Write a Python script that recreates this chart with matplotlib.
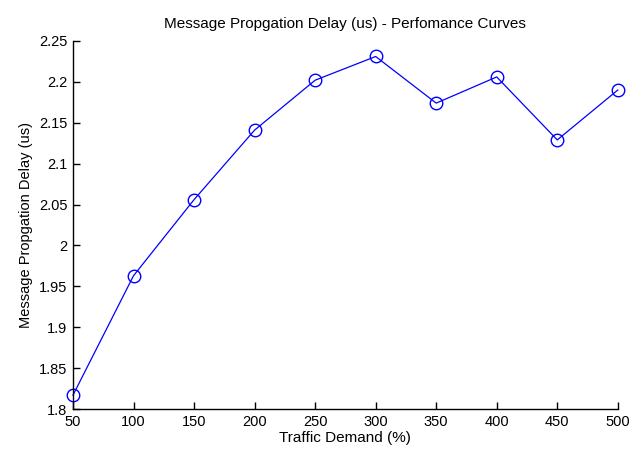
import matplotlib
matplotlib.use('Agg')
import matplotlib.pyplot as plt

traffic = [50, 100, 150, 200, 250, 300, 350, 400, 450, 500]
delay = [1.817, 1.963, 2.056, 2.141, 2.202, 2.231, 2.174, 2.206, 2.129, 2.190]
xticks = list(range(50, 501, 50))
yticks = [1.8, 1.85, 1.9, 1.95, 2.0, 2.05, 2.1, 2.15, 2.2, 2.25]
ytick_labels = ['1.8', '1.85', '1.9', '1.95', '2', '2.05', '2.1', '2.15', '2.2', '2.25']

plt.rcParams['font.family'] = ['Liberation Sans', 'DejaVu Sans']

fig = plt.figure(figsize=(6.32, 4.55), dpi=100)
ax = fig.add_axes([0.1155, 0.101, 0.862, 0.809])
ax.plot(traffic, delay, color='#0000ff', linewidth=0.9, marker='o',
        markersize=9, markerfacecolor='none', markeredgecolor='#0000ff',
        markeredgewidth=1.0, clip_on=False)

ax.set_xlim(50, 500)
ax.set_ylim(1.8, 2.25)
ax.set_xticks(xticks)
ax.set_yticks(yticks)
ax.set_yticklabels(ytick_labels)
ax.spines['top'].set_visible(False)
ax.spines['right'].set_visible(False)
ax.spines['left'].set_linewidth(1.0)
ax.spines['bottom'].set_linewidth(1.0)
ax.tick_params(direction='in', length=5, width=1.0, labelsize=10.5, pad=4)

ax.set_title('Message Propgation Delay (us) - Perfomance Curves', fontsize=11, pad=9)
ax.set_xlabel('Traffic Demand (%)', fontsize=11, labelpad=2)
ax.set_ylabel('Message Propgation Delay (us)', fontsize=10.5, labelpad=4)

fig.savefig('out.png', dpi=100)
